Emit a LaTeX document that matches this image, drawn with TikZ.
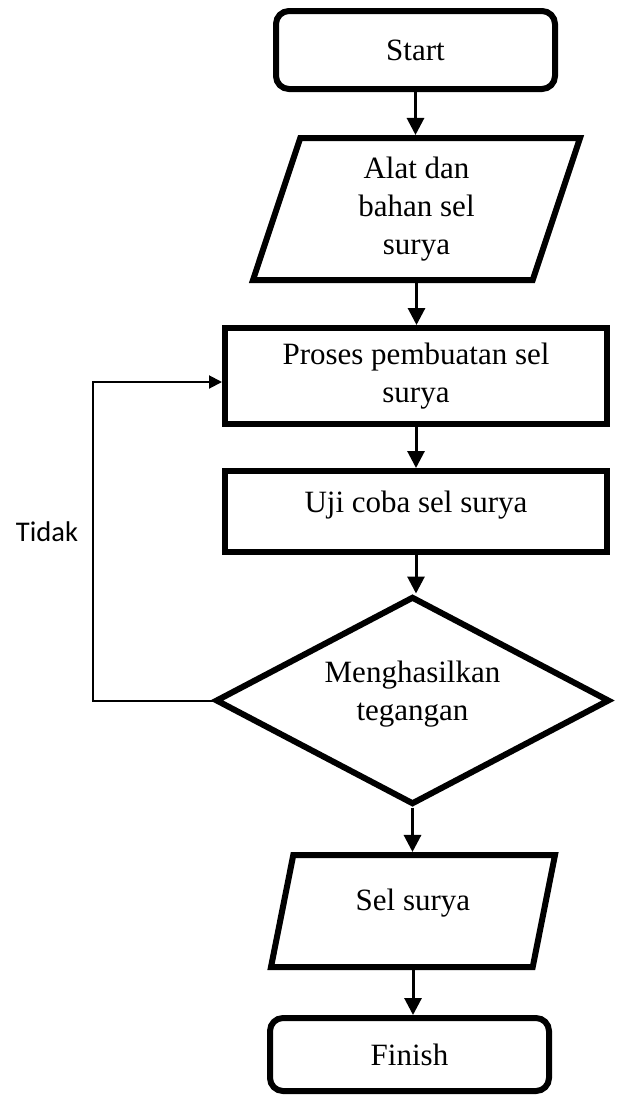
\documentclass[tikz,border=0pt]{standalone}
\usepackage{fontspec}
\setmainfont{Liberation Serif}
\newfontfamily\labelfont{Carlito}
\usetikzlibrary{shapes.geometric,arrows.meta}
\begin{document}
\begin{tikzpicture}[x=1pt,y=-1pt,
  every node/.style={inner sep=0pt, align=center, font=\fontsize{31}{38}\selectfont},
  shapeline/.style={draw, line width=6pt},
  terminal/.style={shapeline, rectangle, rounded corners=13pt, minimum width=279pt},
  process/.style={shapeline, rectangle, minimum width=382pt},
  io/.style={shapeline, trapezium, trapezium stretches body},
  decision/.style={shapeline, diamond, aspect=1.9},
  flow/.style={line width=3pt, -{Triangle[length=17pt,width=17pt]}},
  back/.style={line width=2pt, -{Triangle[length=13pt,width=13pt]}},
]
\fill[white] (0,0) rectangle (616,1095);
\useasboundingbox (0,0) rectangle (616,1095);

% flow chart blocks
\node[terminal, minimum height=78pt] (start) at (415.5,50) {Start};
\node[io, trapezium left angle=65.6, trapezium right angle=114.4,
      minimum width=327pt, minimum height=142pt] (bahan) at (416.5,209)
      {Alat dan\\bahan sel\\surya};
\node[process, minimum height=96pt] (proses) at (416,376)
      {Proses pembuatan sel\\surya};
\node[process, minimum height=81pt, text depth=19pt] (uji) at (416,511.5)
      {Uji coba sel surya};
\node[decision, minimum width=394pt, minimum height=208pt, text depth=19pt] (cek) at (412.5,700.5)
      {Menghasilkan\\tegangan};
\node[io, trapezium left angle=63.4, trapezium right angle=116.6,
      minimum width=284pt, minimum height=112pt, text depth=23pt] (hasil) at (413,911)
      {Sel surya};
\node[terminal, minimum height=73pt] (finish) at (409.5,1054.5) {Finish};

% main flow
\draw[flow] (start.south) -- (start.south |- bahan.north);
\draw[flow] (bahan.south) -- (bahan.south |- proses.north);
\draw[flow] (proses.south) -- (proses.south |- uji.north);
\draw[flow] (uji.south) -- (uji.south |- cek.north);
\draw[flow] (cek.south) -- (cek.south |- hasil.north);
\draw[flow] (hasil.south) -- (hasil.south |- finish.north);

% loop back when no voltage is produced
\coordinate (loopcorner) at (93,700.5);
\draw[back] (cek.west) -- (loopcorner) |- ([yshift=-6pt]proses.west);
\node[font=\labelfont\fontsize{28.5}{34}\selectfont] (tidak) at (47,532) {Tidak};
\end{tikzpicture}
\end{document}
